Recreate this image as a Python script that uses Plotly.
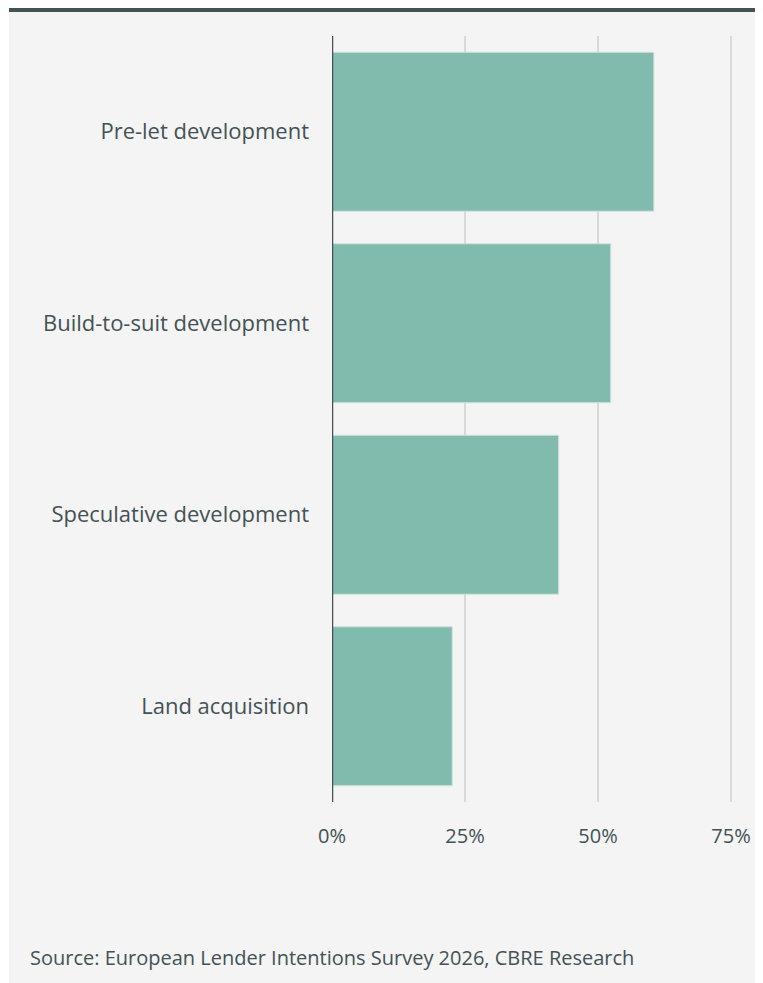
import plotly.graph_objects as go

categories = ['Pre-let development', 'Build-to-suit development',
              'Speculative development', 'Land acquisition']
values = [60.5, 52.4, 42.6, 22.6]
tick_vals = [0, 25, 50, 75]
tick_text = ['0%', '25%', '50%', '75%']

# page has an 8px body margin, so the figure is drawn 8px smaller
W, H = 755, 975
L, R, T, B = 324, 5, 28, 181
pw = W - L - R
ph = H - T - B


def px(x):
    return (x - L) / pw


def py(y):
    return (H - B - y) / ph


txt = '#435254'
font = 'Open Sans'

fig = go.Figure(
    go.Bar(
        x=values,
        y=categories,
        orientation='h',
        marker=dict(color='#81bbad', line=dict(color='#cfe3de', width=1)),
        hoverinfo='x+y',
    )
)

# grey panel and dark top rule
fig.add_shape(type='rect', xref='paper', yref='paper',
              x0=px(1), x1=px(W), y0=py(H), y1=py(4),
              fillcolor='#f4f4f4', line_width=0, layer='below')
fig.add_shape(type='rect', xref='paper', yref='paper',
              x0=px(1), x1=px(W), y0=py(4), y1=py(0),
              fillcolor='#435254', line_width=0, layer='below')

fig.add_annotation(
    text='Source: European Lender Intentions Survey 2026, CBRE Research',
    xref='paper', yref='paper', x=px(20), y=py(950),
    xanchor='left', yanchor='middle', showarrow=False,
    font=dict(family=font, size=20, color=txt),
)

fig.update_layout(
    width=W, height=H,
    margin=dict(l=L, r=R, t=T, b=B, pad=0),
    paper_bgcolor='white',
    plot_bgcolor='rgba(0,0,0,0)',
    bargap=0.17,
    showlegend=False,
    font=dict(family=font, color=txt, size=20),
)
fig.update_xaxes(
    range=[0, pw / (399 / 75)],
    tickvals=tick_vals, ticktext=tick_text,
    showgrid=True, gridcolor='#d9d9d9', gridwidth=1.5,
    zeroline=False, showline=False, ticks='',
    ticklabelstandoff=20,
    tickfont=dict(family=font, size=20, color=txt),
    fixedrange=True,
)
fig.update_yaxes(
    autorange='reversed',
    showgrid=False, zeroline=False,
    showline=False, ticks='',
    ticklabelstandoff=22,
    tickfont=dict(family=font, size=22, color=txt),
    fixedrange=True,
)
# dark vertical baseline at 0
fig.add_shape(type='line', xref='x', yref='paper', x0=0, x1=0, y0=0, y1=1,
              line=dict(color='#435254', width=2.5))

fig.write_html('out.html')
